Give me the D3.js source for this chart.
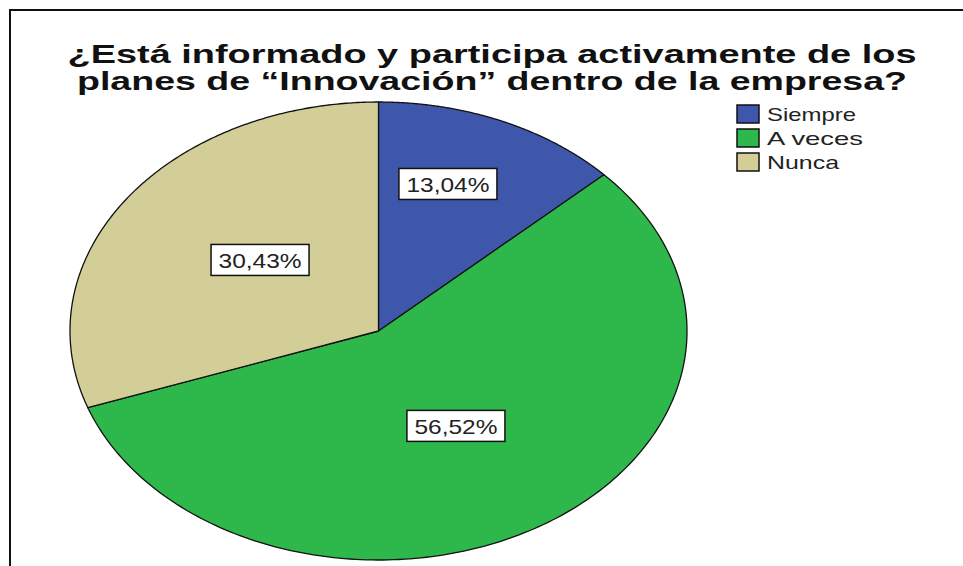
<!DOCTYPE html>
<html>
<head>
<meta charset="utf-8">
<script src="https://cdn.jsdelivr.net/npm/d3@7"></script>
<style>
html,body{margin:0;padding:0;background:#fff;}
svg{display:block;}
</style>
</head>
<body>
<svg id="chart" width="963" height="566"></svg>
<script>
const categories = ["Siempre", "A veces", "Nunca"];
const values = [13.04, 56.52, 30.43];
const labels = ["13,04%", "56,52%", "30,43%"];
const colors = ["#3f57ab", "#2eb84b", "#d3cd98"];
const titleLines = ["¿Está informado y participa activamente de los", "planes de “Innovación” dentro de la empresa?"];

const svg = d3.select("#chart");
const font = "'Liberation Sans', Arial, sans-serif";

// frame
svg.append("path").attr("d", "M10,566 L10,10 L963,10")
  .attr("fill", "none").attr("stroke", "#111").attr("stroke-width", 2);

// title
const titleW = [849, 830];
const titleY = [63, 90];
titleLines.forEach((t, i) => {
  svg.append("text").attr("x", 492).attr("y", titleY[i])
    .attr("text-anchor", "middle").attr("font-family", font)
    .attr("font-weight", "bold").attr("font-size", 25).attr("fill", "#111")
    .attr("textLength", titleW[i]).attr("lengthAdjust", "spacingAndGlyphs")
    .text(t);
});

// pie (elliptical)
const cx = 378.5, cy = 331, rx = 308.5, ry = 229;
const pie = d3.pie().sort(null).value(d => d)(values);
const g = svg.append("g").attr("transform", `translate(${cx},${cy})`);

function ellipsePath(d) {
  const n = 200;
  const pts = [[0, 0]];
  for (let k = 0; k <= n; k++) {
    const a = d.startAngle + (d.endAngle - d.startAngle) * k / n;
    pts.push([rx * Math.sin(a), -ry * Math.cos(a)]);
  }
  return d3.line()(pts) + "Z";
}

g.selectAll("path.slice").data(pie).enter().append("path")
  .attr("class", "slice")
  .attr("d", ellipsePath)
  .attr("fill", (d, i) => colors[i])
  .attr("stroke", "#111").attr("stroke-width", 1.3).attr("stroke-linejoin", "round");

// labels
const fracX = [0.565, 0.483, 0.47];
const fracY = [0.70, 0.485, 0.538];
pie.forEach((d, i) => {
  const a = (d.startAngle + d.endAngle) / 2;
  const x = rx * fracX[i] * Math.sin(a);
  const y = -ry * fracY[i] * Math.cos(a);
  const bw = 98, bh = 31;
  const lg = g.append("g").attr("transform", `translate(${x},${y})`);
  lg.append("rect").attr("x", -bw / 2).attr("y", -bh / 2).attr("width", bw).attr("height", bh)
    .attr("fill", "#fff").attr("stroke", "#111").attr("stroke-width", 1.5);
  lg.append("text").attr("x", 0).attr("y", 8).attr("text-anchor", "middle")
    .attr("font-family", font).attr("font-size", 21).attr("fill", "#222")
    .attr("textLength", 83).attr("lengthAdjust", "spacingAndGlyphs")
    .text(labels[i]);
});

// legend
const legW = [89, 96, 72];
categories.forEach((c, i) => {
  const y0 = 105 + i * 24;
  svg.append("rect").attr("x", 737).attr("y", y0).attr("width", 22).attr("height", 18)
    .attr("fill", colors[i]).attr("stroke", "#111").attr("stroke-width", 1.5);
  svg.append("text").attr("x", 767).attr("y", y0 + 16)
    .attr("font-family", font).attr("font-size", 19).attr("fill", "#222")
    .attr("textLength", legW[i]).attr("lengthAdjust", "spacingAndGlyphs")
    .text(c);
});
</script>
</body>
</html>
